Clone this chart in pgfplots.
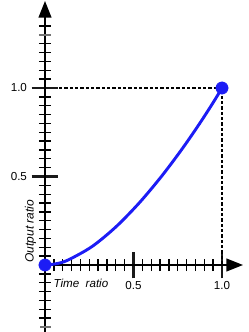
\documentclass[border=0pt]{standalone}
\usepackage{pgfplots}
\pgfplotsset{compat=1.18}
\usepackage{fontspec}
\setmainfont{Liberation Sans}
\usetikzlibrary{arrows.meta}
\definecolor{curveblue}{RGB}{28,28,245}
\begin{document}
\begin{tikzpicture}
\begin{axis}[
  scale only axis,
  width=186.75pt, height=249pt,
  xmin=-0.2542, xmax=1.1525,
  ymin=-0.3785, ymax=1.4972,
  enlargelimits=false,
  clip=false,
  axis lines=middle,
  axis line style={draw=none},
  tick align=center,
  /pgf/number format/assume math mode=true,
  xtick={0.5,1.0}, xticklabels={0.5,1.0},
  ytick={0.5,1.0}, yticklabels={0.5,1.0},
  minor xtick={0.05,0.1,0.15,0.2,0.25,0.3,0.35,0.4,0.45,0.55,0.6,0.65,0.7,0.75,0.8,0.85,0.9,0.95},
  minor ytick={-0.3,-0.25,-0.2,-0.15,-0.1,-0.05,0.05,0.1,0.15,0.2,0.25,0.3,0.35,0.4,0.45,0.55,0.6,0.65,0.7,0.75,0.8,0.85,0.9,0.95,1.05,1.1,1.15,1.2,1.25,1.35},
  major tick length=20pt,
  minor tick length=9pt,
  every major tick/.style={black!90, line width=1.6pt},
  every minor tick/.style={black, line width=1pt},
  tick label style={font=\fontsize{8.7}{10}\selectfont, text=black},
  xticklabel style={anchor=center, yshift=-5.4pt},
  yticklabel style={anchor=east, xshift=0pt},
]
% axis lines with arrows
\draw[line width=1.5pt, -{Triangle[length=12.5pt,width=9.5pt]}] (axis cs:0,0) -- (axis cs:1.119,0);
\draw[line width=1.5pt, -{Triangle[length=12.5pt,width=9.5pt]}] (axis cs:0,-0.377) -- (axis cs:0,1.492);
% gray end ticks
\draw[black!55, line width=1.4pt] ([xshift=-4.5pt]axis cs:0,1.3) -- ([xshift=4.5pt]axis cs:0,1.3);
\draw[black!55, line width=1.4pt] ([xshift=-3.5pt]axis cs:0,-0.35) -- ([xshift=4.5pt]axis cs:0,-0.35);
% dashed guides
\addplot[black, line width=0.8pt, dash pattern=on 2.5pt off 1.5pt] coordinates {(0.08,1) (1,1) (1,0)};
% curve
\addplot[curveblue, line width=2.2pt, smooth] coordinates {
(0,0) (0.0641,0.00725) (0.13006,0.028) (0.26528,0.104) (0.40122,0.216)
(0.53344,0.352) (0.6575,0.5) (0.76896,0.648) (0.86338,0.784)
(0.93632,0.896) (0.98334,0.972) (0.99574,0.99275) (1,1)};
% end points
\addplot[only marks, mark=*, mark size=4.6pt, curveblue, mark options={draw=curveblue, fill=curveblue}] coordinates {(0,0) (1,1)};
% axis titles
\node[font=\fontsize{8.7}{10}\selectfont\itshape] at (axis cs:0.203,-0.102) {Time\ \ ratio};
\node[font=\fontsize{9}{10}\selectfont\itshape, rotate=90] at (axis cs:-0.082,0.192) {Output ratio};
\end{axis}
\pgfresetboundingbox
\path[use as bounding box] (current axis.south west) rectangle (current axis.north east);
\end{tikzpicture}
\end{document}
